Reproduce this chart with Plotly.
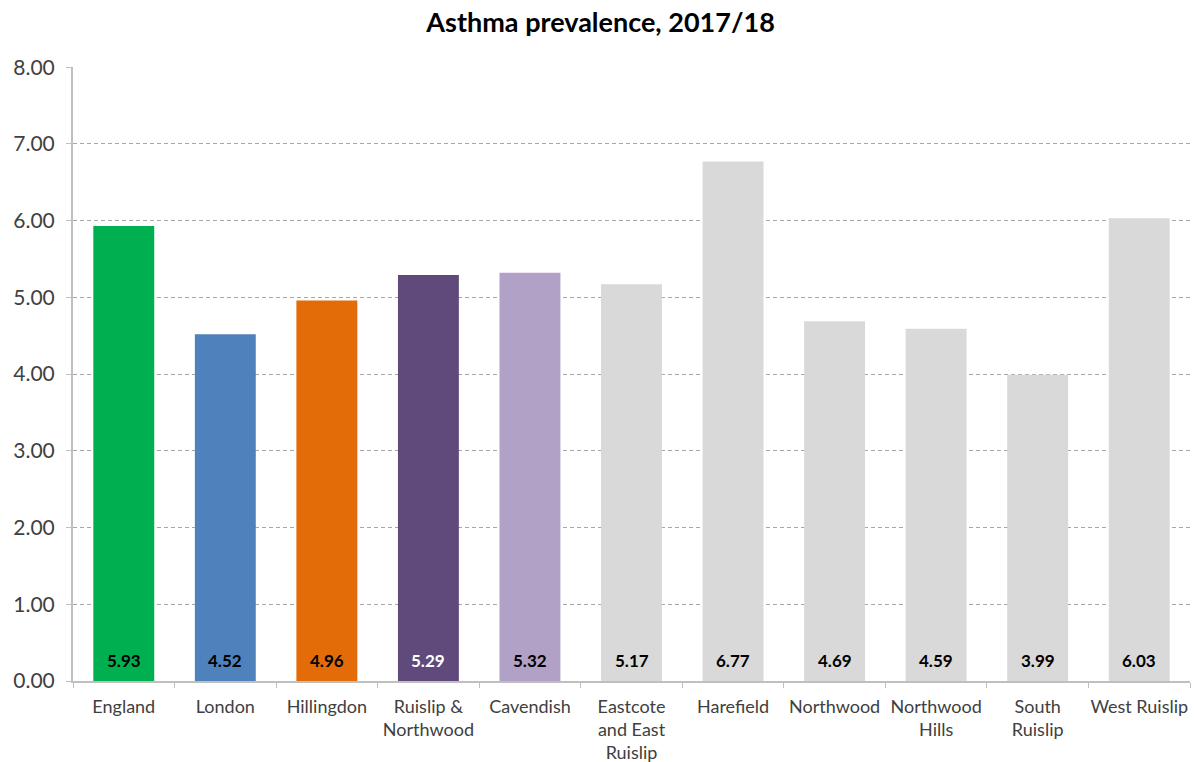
import plotly.graph_objects as go

# Data
areas = ["England", "London", "Hillingdon", "Ruislip &<br>Northwood", "Cavendish",
         "Eastcote<br>and East<br>Ruislip", "Harefield", "Northwood",
         "Northwood<br>Hills", "South<br>Ruislip", "West Ruislip"]
prevalence = [5.93, 4.52, 4.96, 5.29, 5.32, 5.17, 6.77, 4.69, 4.59, 3.99, 6.03]
bar_colours = ["#00B050", "#4F81BD", "#E36C09", "#604A7B", "#B2A1C7",
               "#D9D9D9", "#D9D9D9", "#D9D9D9", "#D9D9D9", "#D9D9D9", "#D9D9D9"]
label_colours = ["black", "black", "black", "white", "black",
                 "black", "black", "black", "black", "black", "black"]

font_family = "Lato, 'Open Sans', sans-serif"

fig = go.Figure()
fig.add_trace(go.Bar(
    x=areas,
    y=prevalence,
    marker=dict(color=bar_colours, line=dict(width=0)),
    hoverinfo="x+y",
))

# value labels sitting near the base of each bar
for a, v, c in zip(areas, prevalence, label_colours):
    fig.add_annotation(x=a, y=0, yanchor="bottom", yshift=8, showarrow=False,
                       text=f"<b>{v:.2f}</b>",
                       font=dict(family=font_family, size=17, color=c))

fig.update_layout(
    title=dict(text="<b>Asthma prevalence, 2017/18</b>", x=0.503, xanchor="center",
               y=0.971, yanchor="middle",
               font=dict(family=font_family, size=27, color="black")),
    width=1194, height=762,
    margin=dict(l=73, r=4, t=67, b=81, autoexpand=False),
    plot_bgcolor="white",
    paper_bgcolor="white",
    bargap=0.4,
    showlegend=False,
    font=dict(family=font_family, color="#404040"),
)

fig.update_yaxes(
    range=[0, 8.002], tickvals=[0, 1, 2, 3, 4, 5, 6, 7, 8], tickformat=".2f",
    showgrid=True, gridcolor="#A6A6A6", griddash="4px,3px", gridwidth=1,
    showline=True, linecolor="#BFBFBF", linewidth=2,
    ticks="outside", ticklen=5, tickcolor="#BFBFBF",
    tickfont=dict(size=21, color="#404040"),
    ticklabelstandoff=7,
    zeroline=False, automargin=False,
)
fig.update_xaxes(
    showline=True, linecolor="#BFBFBF", linewidth=2,
    ticks="outside", ticklen=5, tickcolor="#BFBFBF", tickson="boundaries",
    tickfont=dict(size=18, color="#404040"),
    ticklabelstandoff=8,
    tickangle=0, automargin=False,
)

# remove the default page margin so the figure fills the window exactly
fig.write_html("out.html", config={"displayModeBar": False},
               post_script="document.body.style.margin='0px';document.body.style.overflow='hidden';")
